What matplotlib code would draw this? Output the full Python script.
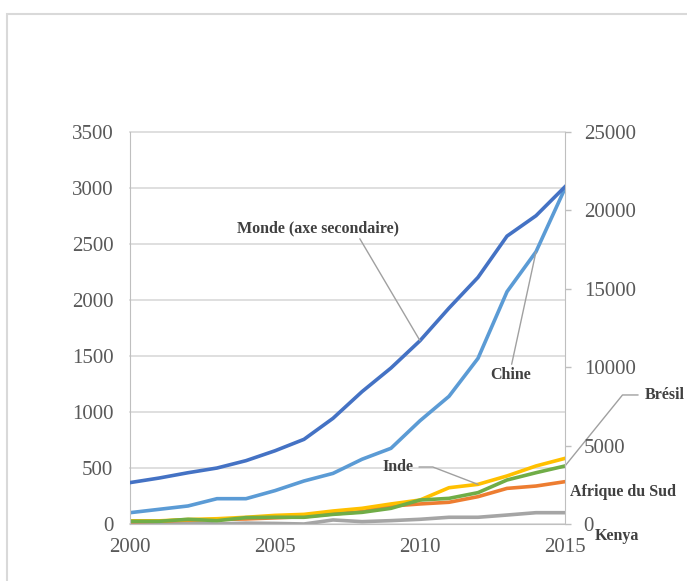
import matplotlib.pyplot as plt
from matplotlib.patches import Rectangle

plt.rcParams['font.family'] = ['Liberation Serif', 'DejaVu Serif']

years = list(range(2000, 2016))

# Monde is read on the secondary axis (0-25000)
monde = [2640, 2930, 3270, 3570, 4040, 4670, 5400, 6740, 8440, 9950,
         11690, 13770, 15730, 18360, 19660, 21510]
chine = [101, 131, 161, 226, 226, 298, 384, 452, 578, 676,
         922, 1140, 1479, 2074, 2431, 2997]
inde = [28, 28, 40, 47, 60, 77, 86, 116, 140, 179,
        214, 324, 354, 429, 518, 586]
bresil = [24, 24, 42, 30, 57, 60, 60, 86, 104, 140,
          214, 229, 280, 393, 458, 518]
afrique_sud = [20, 25, 35, 40, 45, 55, 65, 90, 110, 160,
               179, 194, 244, 318, 339, 378]
kenya = [10, 10, 10, 0, 8, 5, 0, 36, 21, 30,
         42, 60, 60, 80, 101, 101]

txt = '#595959'
grid = '#D9D9D9'
lab = '#404040'
fs = 11.5

fig = plt.figure(figsize=(6.87, 5.81), dpi=100)
fig.patches.append(Rectangle((7 / 687, -0.1), 1.2, 1 - 14 / 581 + 0.1,
                             transform=fig.transFigure, fill=False,
                             edgecolor='#D9D9D9', linewidth=1.5))

ax = fig.add_axes([130 / 687, 57 / 581, 435 / 687, 392 / 581])
ax2 = ax.twinx()

lw = 2.6
ax.plot(years, kenya, color='#A5A5A5', lw=lw)
ax.plot(years, afrique_sud, color='#ED7D31', lw=lw)
ax.plot(years, inde, color='#FFC000', lw=lw)
ax.plot(years, bresil, color='#70AD47', lw=lw)
ax.plot(years, chine, color='#5B9BD5', lw=lw)
ax2.plot(years, monde, color='#4472C4', lw=lw)

ax.set_xlim(2000, 2015)
ax.set_ylim(0, 3500)
ax2.set_ylim(0, 25000)
ax.set_xticks([2000, 2005, 2010, 2015])
ax.set_yticks(range(0, 3501, 500))
ax2.set_yticks(range(0, 25001, 5000))
ax.yaxis.grid(True, color=grid, lw=1.2)
for gl in ax.get_ygridlines():
    gl.set_clip_on(False)
ax.set_axisbelow(True)

for a in (ax, ax2):
    for s in a.spines.values():
        s.set_visible(False)
ax.spines['left'].set_visible(True)
ax.spines['left'].set_color('#BFBFBF')
ax.spines['bottom'].set_visible(True)
ax.spines['bottom'].set_color('#BFBFBF')
ax2.spines['right'].set_visible(True)
ax2.spines['right'].set_color('#BFBFBF')

ax.tick_params(axis='y', length=0, pad=12, labelsize=15, labelcolor=txt)
ax.tick_params(axis='x', length=0, pad=10, labelsize=15, labelcolor=txt)
ax2.tick_params(axis='y', length=4.5, width=1, color='#BFBFBF', pad=9,
                labelsize=15, labelcolor=txt)

lc = '#A0A0A0'
ax2.annotate('Monde (axe secondaire)', xy=(2010, monde[10]), xytext=(2006.5, 18880),
             ha='center', va='center', fontsize=fs, fontweight='bold', color=lab,
             arrowprops=dict(arrowstyle='-', color=lc, lw=1, shrinkA=0, shrinkB=0,
                             relpos=(0.745, 0)))
ax.annotate('Chine', xy=(2014, chine[14]), xytext=(2013.14, 1330),
            ha='center', va='center', fontsize=fs, fontweight='bold', color=lab,
            arrowprops=dict(arrowstyle='-', color=lc, lw=1, shrinkA=0, shrinkB=0,
                            relpos=(0.5, 1)))
ax.annotate('Inde', xy=(2012, inde[12]), xytext=(2009.24, 509),
            ha='center', va='center', fontsize=fs, fontweight='bold', color=lab,
            arrowprops=dict(arrowstyle='-', color=lc, lw=1, shrinkA=2, shrinkB=0,
                            relpos=(1, 0.5),
                            connectionstyle='angle,angleA=0,angleB=-21,rad=0'))
ax.annotate('Brésil', xy=(2015, bresil[15]), xytext=(2018.45, 1152),
            ha='center', va='center', fontsize=fs, fontweight='bold', color=lab,
            annotation_clip=False,
            arrowprops=dict(arrowstyle='-', color=lc, lw=1, shrinkA=3, shrinkB=0,
                            relpos=(0, 0.5),
                            connectionstyle='angle,angleA=0,angleB=51,rad=0'))
ax.text(2017.0, 286, 'Afrique du Sud', ha='center', va='center', fontsize=fs,
        fontweight='bold', color=lab, clip_on=False)
ax.text(2016.8, -107, 'Kenya', ha='center', va='center', fontsize=fs,
        fontweight='bold', color=lab, clip_on=False)

fig.savefig('out.png', dpi=100)
